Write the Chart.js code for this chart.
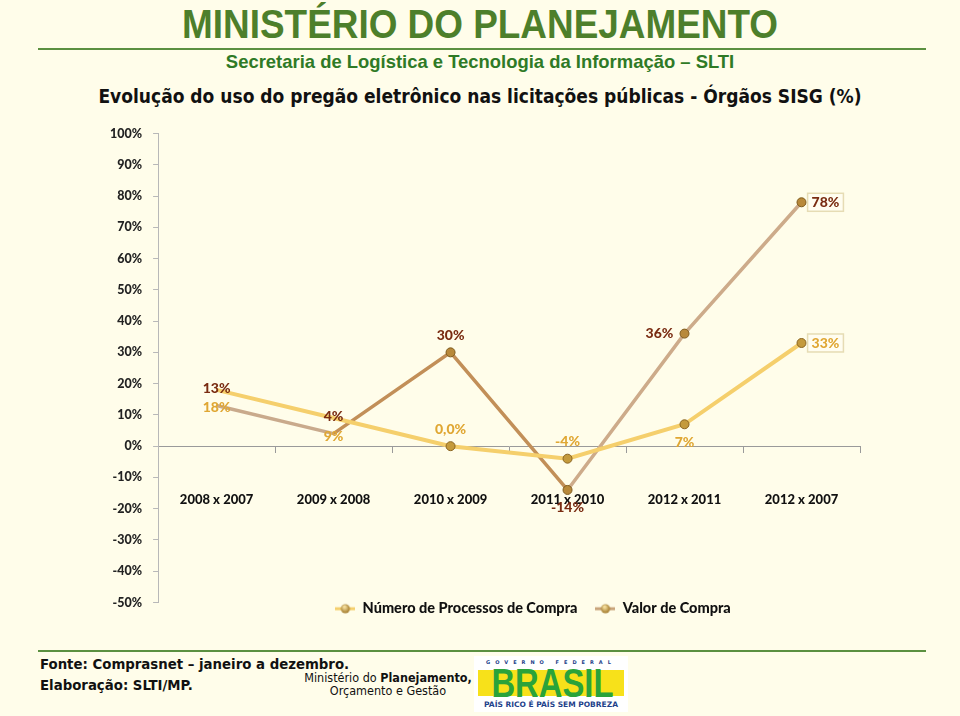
<!DOCTYPE html>
<html>
<head>
<meta charset="utf-8">
<script src="https://cdn.jsdelivr.net/npm/chart.js@4/dist/chart.umd.min.js"></script>
<style>
  body { margin: 0; background: #fffdea; width: 960px; height: 716px; overflow: hidden; position: relative; font-family: "DejaVu Sans", sans-serif; }
  .abs { position: absolute; }
  .wrap { left: 0; width: 960px; text-align: center; }
  .wrap span { display: inline-block; }
  #head1 { top: 1px; color: #4d7f2b; font: bold 41px "Liberation Sans Narrow", "Liberation Sans", sans-serif; }
  #head1 span { transform: scaleX(0.9); }
  #rule1 { left: 38px; width: 888px; top: 48px; height: 2px; background: #5b9040; }
  #head2 { top: 51px; color: #2f7a26; font: bold 19px "Liberation Sans Narrow", "Liberation Sans", sans-serif; }
  #head2 span { transform: scaleX(0.97); }
  #title { top: 85px; color: #111; font: bold 19px "DejaVu Sans Condensed", "DejaVu Sans", sans-serif; }
  #chartBox { left: 0; top: 115px; width: 960px; height: 536px; }
  #rule2 { left: 38px; width: 888px; top: 650px; height: 2px; background: #5b9040; }
  #fonte { left: 40px; top: 653px; color: #111; font: bold 14.8px "DejaVu Sans Condensed", sans-serif; line-height: 21px; }
  #mpog { left: 300px; top: 671px; width: 176px; text-align: center; color: #111; font: 12.5px "DejaVu Sans Condensed", sans-serif; line-height: 13px; }
  #logo { left: 474px; top: 656px; width: 154px; height: 56px; background: #fff; }
  #logo .gf { position: absolute; left: 0; top: 3px; width: 154px; text-align: center; font: bold 5px "DejaVu Sans", sans-serif; letter-spacing: 5px; color: #1d3f8a; }
  #logo .band { position: absolute; left: 4px; top: 14px; width: 146px; height: 26px; background: #f7e11a; }
  #logo .br { position: absolute; left: 4px; top: 9px; width: 146px; text-align: center; font: bold 40px "Liberation Sans", sans-serif; color: #2aa33a; line-height: 36px; }
  #logo .br span { display: inline-block; transform: scaleX(0.82); }
  #logo .pr { position: absolute; left: 0; top: 44px; width: 154px; text-align: center; font: bold 7.5px "DejaVu Sans", sans-serif; color: #1d3f8a; }
</style>
</head>
<body>
<div id="head1" class="abs wrap"><span>MINISTÉRIO DO PLANEJAMENTO</span></div>
<div id="rule1" class="abs"></div>
<div id="head2" class="abs wrap"><span>Secretaria de Logística e Tecnologia da Informação – SLTI</span></div>
<div id="title" class="abs wrap"><span>Evolução do uso do pregão eletrônico nas licitações públicas - Órgãos SISG (%)</span></div>
<div id="rule2" class="abs"></div>
<div id="fonte" class="abs">Fonte: Comprasnet – janeiro a dezembro.<br>Elaboração: SLTI/MP.</div>
<div id="mpog" class="abs">Ministério do <b>Planejamento,</b><br>Orçamento e Gestão</div>
<div id="logo" class="abs">
  <div class="gf">GOVERNO FEDERAL</div>
  <div class="band"></div>
  <div class="br"><span>BRASIL</span></div>
  <div class="pr">PAÍS RICO É PAÍS SEM POBREZA</div>
</div>
<div id="chartBox" class="abs"><canvas id="chart"></canvas></div>
<script>
// Chart data
const categories = ["2008 x 2007", "2009 x 2008", "2010 x 2009", "2011 x 2010", "2012 x 2011", "2012 x 2007"];
const processos = [18, 9, 0, -4, 7, 33];      // Número de Processos de Compra
const valor = [13, 4, 30, -14, 36, 78];        // Valor de Compra
const yTicks = [-50, -40, -30, -20, -10, 0, 10, 20, 30, 40, 50, 60, 70, 80, 90, 100];

// where each data label sits relative to its point
const posProcessos = ['below', 'below', 'above', 'above', 'below', 'rightBox'];
const posValor = ['above', 'above', 'above', 'below', 'left', 'rightBox'];

const fmt = v => (v === 0 ? '0,0%' : v + '%');
const FONT = 'Lato';

// legend symbol: short line with a ball on it
function legendIcon(color) {
  const c = document.createElement('canvas');
  c.width = 20; c.height = 12;
  const g = c.getContext('2d');
  g.strokeStyle = color; g.lineWidth = 3;
  g.beginPath(); g.moveTo(0, 6); g.lineTo(20, 6); g.stroke();
  const grd = g.createRadialGradient(9, 4, 1, 10, 6, 5);
  grd.addColorStop(0, '#f3dc9a'); grd.addColorStop(1, '#9a7020');
  g.fillStyle = grd;
  g.beginPath(); g.arc(10, 6, 4.5, 0, Math.PI * 2); g.fill();
  return c;
}
const icons = [legendIcon('#f5cf6c'), legendIcon('#c9a47a')];

// point labels, drawn by hand since there is no datalabels plugin here
const labelPlugin = {
  id: 'pointLabels',
  afterDatasetsDraw(chart) {
    const ctx = chart.ctx;
    const sets = [
      { pos: posProcessos, color: '#e0a733' },
      { pos: posValor, color: '#7a2c12' }
    ];
    ctx.save();
    ctx.font = '900 14px ' + FONT + ', sans-serif';
    ctx.textAlign = 'center';
    ctx.textBaseline = 'middle';
    sets.forEach((s, di) => {
      const meta = chart.getDatasetMeta(di);
      const data = chart.data.datasets[di].data;
      meta.data.forEach((pt, i) => {
        const txt = fmt(data[i]);
        let x = pt.x, y = pt.y;
        const p = s.pos[i];
        if (p === 'above') y -= 17;
        else if (p === 'below') y += 18;
        else if (p === 'left') x -= 25;
        else if (p === 'rightBox') x += 24;
        if (p === 'rightBox') {
          const w = ctx.measureText(txt).width + 8;
          ctx.fillStyle = '#fffdf0';
          ctx.strokeStyle = '#e6dcb4';
          ctx.lineWidth = 1.5;
          ctx.fillRect(x - w / 2, y - 9, w, 18);
          ctx.strokeRect(x - w / 2, y - 9, w, 18);
        }
        ctx.fillStyle = s.color;
        ctx.fillText(txt, x, y);
      });
    });
    ctx.restore();
  }
};

// move the legend right and up, like the original
const legendShift = {
  id: 'legendShift',
  afterLayout(chart) {
    const l = chart.legend;
    l.left += 24; l.right += 24;
    l.top -= 19; l.bottom -= 19;
  }
};

const valorSegColors = ['#c9aa8c', '#c28f58', '#c28f58', '#cdab8a', '#cdab8a'];

new Chart(document.getElementById('chart'), {
  type: 'line',
  data: {
    labels: categories,
    datasets: [{
      label: 'Número de Processos de Compra',
      data: processos,
      borderColor: '#f5cf6c',
      borderWidth: 4,
      pointRadius: [0, 0, 4.5, 4.5, 4.5, 4.5],
      pointBackgroundColor: '#c49a3c',
      pointBorderColor: '#8a6420',
      pointBorderWidth: 1,
      tension: 0
    }, {
      label: 'Valor de Compra',
      data: valor,
      borderColor: '#c9a47a',
      borderWidth: 3.5,
      segment: { borderColor: ctx => valorSegColors[ctx.p0DataIndex] },
      pointRadius: [0, 0, 4.5, 4.5, 4.5, 4.5],
      pointBackgroundColor: '#b8893a',
      pointBorderColor: '#7e5a1c',
      pointBorderWidth: 1,
      tension: 0
    }]
  },
  options: {
    responsive: true,
    maintainAspectRatio: false,
    animation: false,
    layout: { padding: { left: 99, right: 100, top: 15, bottom: 6 } },
    scales: {
      x: {
        position: { y: 0 },
        offset: true,
        grid: { drawOnChartArea: false, offset: true, tickLength: 6, color: '#9a9a9a' },
        border: { color: '#9a9a9a' },
        ticks: { color: '#111', font: { family: FONT, weight: '900', size: 13 }, padding: 40 }
      },
      y: {
        min: -50,
        max: 100,
        afterBuildTicks: axis => { axis.ticks = yTicks.map(v => ({ value: v })); },
        grid: { drawOnChartArea: false, tickLength: 5, color: '#b8b8b8' },
        border: { color: '#b8b8b8' },
        ticks: { color: '#222', font: { family: FONT, weight: '900', size: 12.5 }, padding: 11, callback: v => v + '%' }
      }
    },
    plugins: {
      legend: {
        position: 'bottom',
        fullSize: false,
        labels: {
          usePointStyle: true,
          pointStyleWidth: 20,
          color: '#111',
          font: { family: FONT, weight: '900', size: 14.5 },
          padding: 18,
          generateLabels: chart => {
            const items = Chart.defaults.plugins.legend.labels.generateLabels(chart);
            items.forEach((it, i) => { it.pointStyle = icons[i]; });
            return items;
          }
        }
      },
      tooltip: { enabled: false }
    }
  },
  plugins: [labelPlugin, legendShift]
});
</script>
</body>
</html>
